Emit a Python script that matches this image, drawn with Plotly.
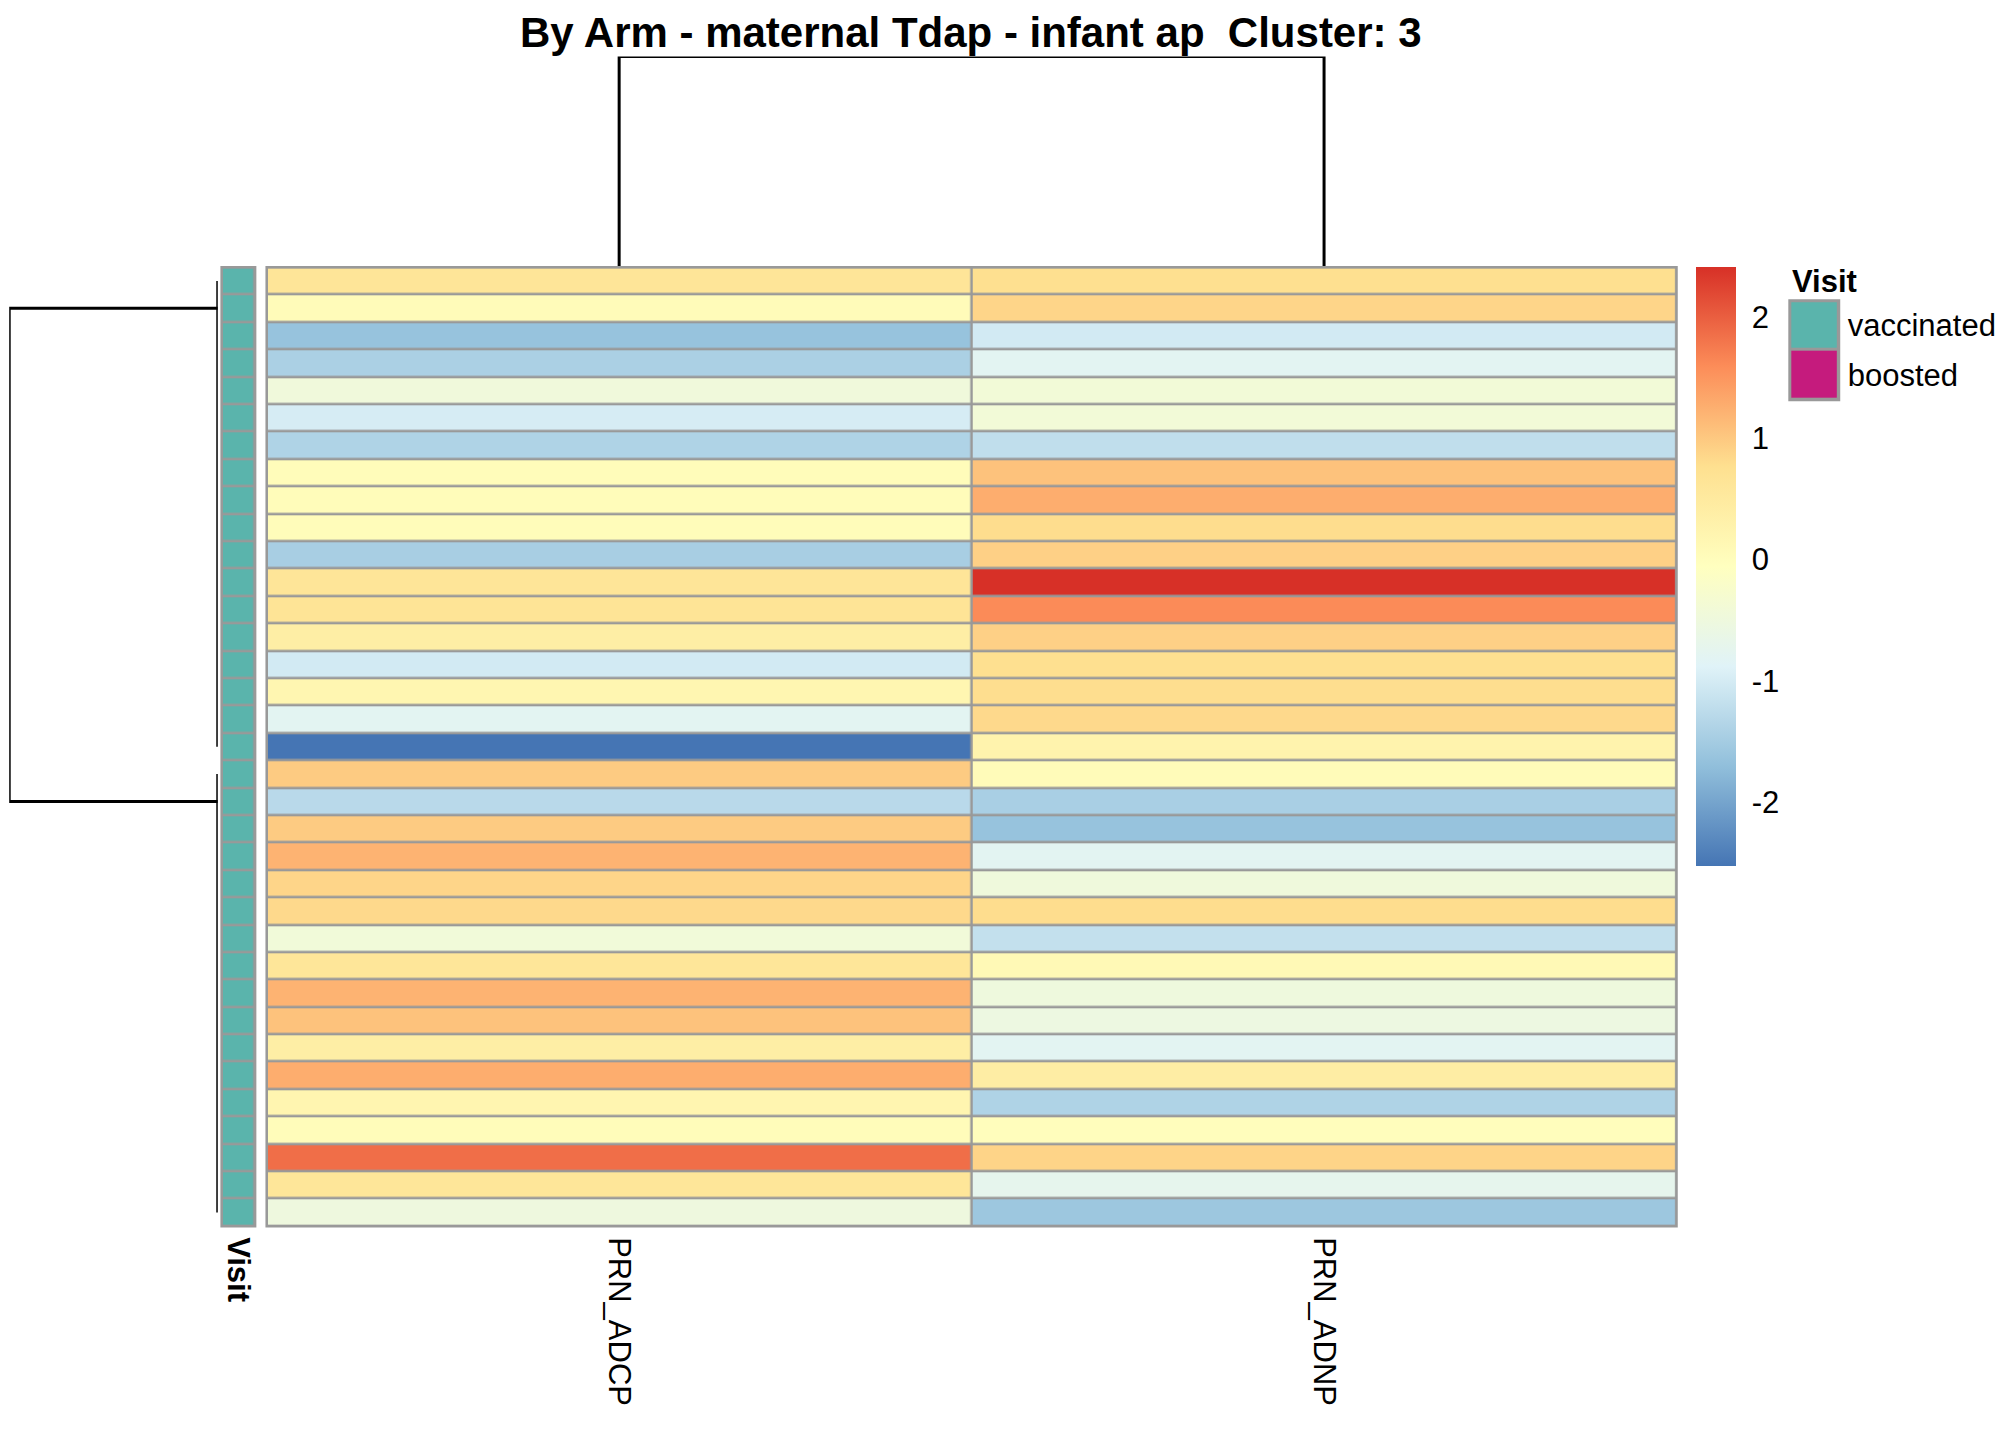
"""
pheatmap-style cluster heatmap - By Arm, maternal Tdap / infant ap, cluster 3
"""
import numpy as np
import plotly.graph_objects as go

# ---- data ----
col_names = ["PRN_ADCP", "PRN_ADNP"]

# scaled values, rows in dendrogram order (top -> bottom)
adcp = [0.63, 0.05, -1.64, -1.44, -0.46, -0.99, -1.39, 0.02, 0.02, 0.02,
        -1.47, 0.63, 0.65, 0.39, -1.03, 0.18, -0.80, -2.53, 0.97, -1.29,
        0.97, 1.21, 0.87, 0.83, -0.43, 0.60, 1.21, 1.06, 0.39, 1.27,
        0.20, 0.02, 1.86, 0.60, -0.51]
adnp = [0.76, 0.87, -1.03, -0.80, -0.40, -0.40, -1.22, 1.06, 1.27, 0.79,
        0.92, 2.41, 1.60, 0.92, 0.76, 0.78, 0.83, 0.26, 0.05, -1.46,
        -1.64, -0.80, -0.48, 0.79, -1.19, 0.10, -0.50, -0.55, -0.80, 0.41,
        -1.39, 0.00, 0.88, -0.72, -1.58]

visit = ["vaccinated"] * 35
visit_levels = ["vaccinated", "boosted"]
visit_colors = ["#5AB4AC", "#C51B7D"]

# dendrogram structure
row_cluster_sizes = [18, 17]
row_branch_pos = [1.0, 19.0]     # where the top merge attaches (row index)
row_top_height = 1.0
row_sub_height = 0.0
col_merge_height = 1.0

zmin, zmax = -2.53, 2.41
cbar_ticks = [-2, -1, 0, 1, 2]

# ---- layout helpers ----
W, H = 2016, 1440
# positions measured on the reference screenshot, mapped to figure pixels
def px(d): return d / 0.7767 - 9.1
def py(d): return d / 0.778 - 6.8
def fx(d): return px(d) / W
def fy(d): return 1 - py(d) / H

hm_x = [208, 1303]
hm_y = [207, 953]
an_x = [173, 199]
rd_x = [8, 170]
cd_y = [43, 207]
lg_x = [1391, 1429]
lg_y = [233, 310]

GRID = "#999999"
FONT = "Liberation Sans, Arial, sans-serif"
GAP = 2.5
LW = 3

rdylbu = ["#4575B4", "#91BFDB", "#E0F3F8", "#FFFFBF", "#FEE090", "#FC8D59", "#D73027"]
cscale = [[i / (len(rdylbu) - 1), c] for i, c in enumerate(rdylbu)]

n_rows = len(adcp)
z = np.column_stack([adcp, adnp])
visit_code = [[visit_levels.index(v)] for v in visit]

fig = go.Figure()

# main heatmap
fig.add_trace(go.Heatmap(
    z=z, x=list(range(len(col_names))), y=list(range(n_rows)),
    colorscale=cscale, zmin=zmin, zmax=zmax, xgap=GAP, ygap=GAP,
    xaxis="x", yaxis="y", hoverinfo="z",
    colorbar=dict(
        x=fx(1318), xanchor="left", y=fy(207), yanchor="top",
        thickness=px(1349) - px(1318), thicknessmode="pixels",
        len=py(673) - py(207), lenmode="pixels",
        outlinewidth=0, xpad=0, ypad=0,
        tickvals=cbar_ticks, ticktext=[str(t) for t in cbar_ticks],
        ticks="outside", ticklen=10, tickcolor="white",
        tickfont=dict(size=31, color="black", family=FONT),
    ),
))

# Visit annotation column
fig.add_trace(go.Heatmap(
    z=visit_code, x=[0], y=list(range(n_rows)),
    colorscale=[[0, visit_colors[0]], [1, visit_colors[1]]], zmin=0, zmax=1,
    showscale=False, xgap=GAP, ygap=GAP, xaxis="x2", yaxis="y2", hoverinfo="skip",
))

# column dendrogram
fig.add_trace(go.Scatter(
    x=[0, 0, 1, 1], y=[0, col_merge_height, col_merge_height, 0],
    mode="lines", line=dict(color="black", width=LW),
    xaxis="x3", yaxis="y3", cliponaxis=False, showlegend=False, hoverinfo="skip",
))

# row dendrogram
start = 0
for size in row_cluster_sizes:
    fig.add_trace(go.Scatter(
        x=[row_sub_height, row_sub_height], y=[start, start + size - 1],
        mode="lines", line=dict(color="black", width=LW),
        xaxis="x4", yaxis="y4", cliponaxis=False, showlegend=False, hoverinfo="skip",
    ))
    start += size
fig.add_trace(go.Scatter(
    x=[row_sub_height, row_top_height, row_top_height, row_sub_height],
    y=[row_branch_pos[0], row_branch_pos[0], row_branch_pos[1], row_branch_pos[1]],
    mode="lines", line=dict(color="black", width=LW),
    xaxis="x4", yaxis="y4", cliponaxis=False, showlegend=False, hoverinfo="skip",
))

# Visit legend keys
fig.add_trace(go.Heatmap(
    z=[[0], [1]], x=[0], y=[0, 1],
    colorscale=[[0, visit_colors[0]], [1, visit_colors[1]]], zmin=0, zmax=1,
    showscale=False, xgap=3, ygap=3, xaxis="x5", yaxis="y5", hoverinfo="skip",
))

hidden = dict(visible=False, showgrid=False, zeroline=False)
rows_range = [n_rows - 0.5, -0.5]

fig.update_layout(
    width=W, height=H, margin=dict(l=0, r=0, t=0, b=0),
    paper_bgcolor="white", plot_bgcolor="white",
    font=dict(family=FONT, color="black"),
    showlegend=False,
    xaxis=dict(domain=[fx(hm_x[0]), fx(hm_x[1])], range=[-0.5, len(col_names) - 0.5],
               tickvals=list(range(len(col_names))), ticktext=col_names,
               tickangle=90, ticks="", showline=False, showgrid=False, zeroline=False,
               ticklabelstandoff=10, tickfont=dict(size=31), anchor="y"),
    yaxis=dict(domain=[fy(hm_y[1]), fy(hm_y[0])], range=rows_range, anchor="x", **hidden),
    xaxis2=dict(domain=[fx(an_x[0]), fx(an_x[1])], range=[-0.5, 0.5],
                tickvals=[0], ticktext=["<b>Visit</b>"], tickangle=90, ticks="",
                showline=False, showgrid=False, zeroline=False,
                ticklabelstandoff=10, tickfont=dict(size=31), anchor="y2"),
    yaxis2=dict(domain=[fy(hm_y[1]), fy(hm_y[0])], range=rows_range, anchor="x2", **hidden),
    xaxis3=dict(domain=[fx(hm_x[0]), fx(hm_x[1])], range=[-0.5, len(col_names) - 0.5],
                anchor="y3", **hidden),
    yaxis3=dict(domain=[fy(cd_y[1]), fy(cd_y[0])], range=[0, col_merge_height],
                anchor="x3", **hidden),
    xaxis4=dict(domain=[fx(rd_x[0]), fx(rd_x[1])], range=[row_top_height, 0],
                anchor="y4", **hidden),
    yaxis4=dict(domain=[fy(hm_y[1]), fy(hm_y[0])], range=rows_range, anchor="x4", **hidden),
    xaxis5=dict(domain=[fx(lg_x[0]), fx(lg_x[1])], range=[-0.5, 0.5], anchor="y5", **hidden),
    yaxis5=dict(domain=[fy(lg_y[1]), fy(lg_y[0])], range=[1.5, -0.5], anchor="x5",
                side="right", tickvals=[0, 1], ticktext=visit_levels, ticks="",
                showline=False, showgrid=False, zeroline=False,
                ticklabelstandoff=8, tickfont=dict(size=31)),
)

# grey cell borders (under the bricks) + outer frame
for xa, ya, w in [("x", "y", GAP), ("x2", "y2", GAP), ("x5", "y5", 3)]:
    fig.add_shape(type="rect", xref=f"{xa} domain", yref=f"{ya} domain",
                  x0=0, x1=1, y0=0, y1=1, fillcolor=GRID, line=dict(width=0), layer="below")
    fig.add_shape(type="rect", xref=f"{xa} domain", yref=f"{ya} domain",
                  x0=0, x1=1, y0=0, y1=1, line=dict(color=GRID, width=w), layer="above")

# title (kept inside the page) and legend title
fig.add_annotation(text="<b>By Arm - maternal Tdap - infant ap  Cluster: 3</b>",
                   xref="paper", yref="paper", x=fx(755), y=1,
                   xanchor="center", yanchor="top", showarrow=False,
                   borderpad=0, font=dict(size=42))
fig.add_annotation(text="<b>Visit</b>", xref="paper", yref="paper",
                   x=fx(lg_x[0]), y=fy(218), xanchor="left", yanchor="middle",
                   showarrow=False, font=dict(size=31))

fig.write_html("out.html")
